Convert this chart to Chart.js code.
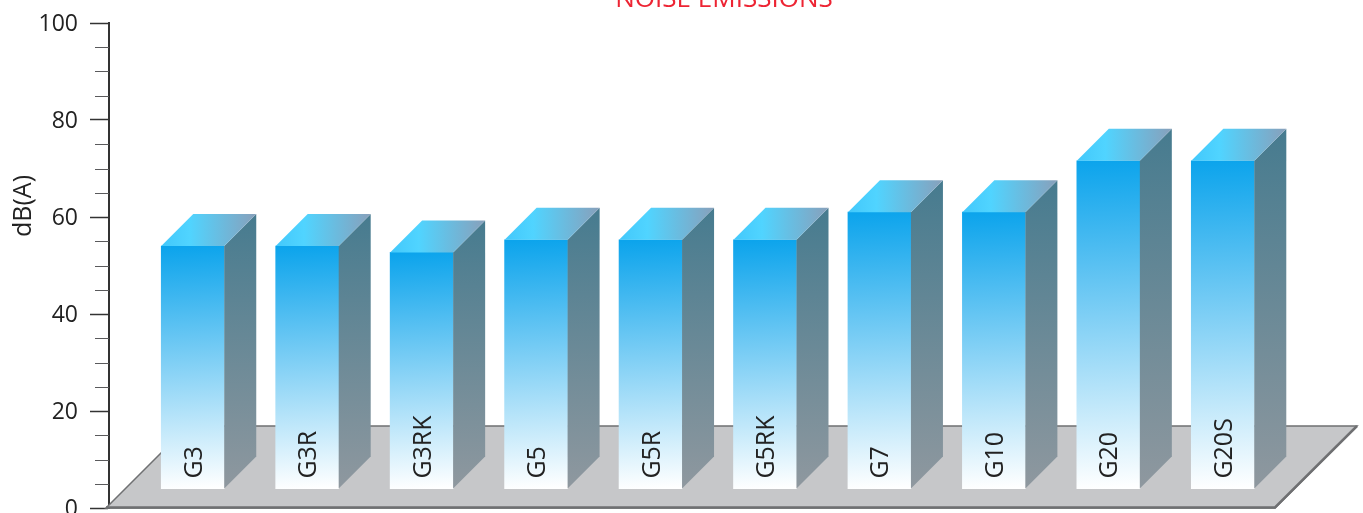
<!DOCTYPE html>
<html>
<head>
<meta charset="utf-8">
<style>
html,body{margin:0;padding:0;background:#fff;overflow:hidden}
canvas{display:block}
</style>
<script src="https://cdn.jsdelivr.net/npm/chart.js@4/dist/chart.umd.min.js"></script>
</head>
<body>
<canvas id="noise" width="1363" height="513"></canvas>
<script>
const categories = ['G3','G3R','G3RK','G5','G5R','G5RK','G7','G10','G20','G20S'];
const noiseLevels = [54,54,52.7,55.3,55.3,55.3,61,61,71.6,71.6];
const minorTicks = [5,10,15,25,30,35,45,50,55,65,70,75,85,90,95];
const chartTitle = 'NOISE EMISSIONS';
const yAxisTitle = 'dB(A)';
const barFloor = 4;
const barDepth = 32;
const floorDepth = 82;
const FONT = '"Open Sans"';

function path(ctx, pts){
  ctx.beginPath();
  pts.forEach((p,i)=> i ? ctx.lineTo(p[0],p[1]) : ctx.moveTo(p[0],p[1]));
  ctx.closePath();
}

// Grey slab the columns stand on, plus the short y-axis ticks.
const floorPlugin = {
  id:'floor',
  beforeDatasetsDraw(chart){
    const {ctx, chartArea:a, scales:{y}} = chart;
    const b = y.getPixelForValue(0);
    const pts = [[a.left-3,b],[a.left-3+floorDepth,b-floorDepth],[a.right+floorDepth,b-floorDepth],[a.right,b]];
    ctx.save();
    path(ctx,pts);
    ctx.fillStyle = '#c6c7c9';
    ctx.fill();
    ctx.strokeStyle = '#6f7072';
    ctx.lineWidth = 1.5;
    ctx.stroke();
    ctx.lineWidth = 2.5;
    ctx.beginPath();
    ctx.moveTo(a.left-3,b-0.5); ctx.lineTo(a.right,b-0.5); ctx.lineTo(a.right+floorDepth,b-floorDepth);
    ctx.stroke();
    ctx.strokeStyle = '#5a5a5c';
    ctx.lineWidth = 1;
    minorTicks.forEach(v=>{
      const py = Math.round(y.getPixelForValue(v))+0.5;
      ctx.beginPath(); ctx.moveTo(a.left-14,py); ctx.lineTo(a.left,py); ctx.stroke();
    });
    ctx.restore();
  },
  // Side and top faces extruded from each bar, then the labels.
  afterDatasetsDraw(chart){
    const {ctx} = chart;
    const bars = chart.getDatasetMeta(0).data;
    ctx.save();
    bars.forEach((bar,i)=>{
      const l = bar.x - bar.width/2, r = bar.x + bar.width/2, t = bar.y, b = bar.base;
      const side = ctx.createLinearGradient(0,t-barDepth,0,b);
      side.addColorStop(0,'#467b8f');
      side.addColorStop(1,'#8f989f');
      path(ctx,[[r,t],[r+barDepth,t-barDepth],[r+barDepth,b-barDepth],[r,b]]);
      ctx.fillStyle = side; ctx.fill();
      const top = ctx.createLinearGradient(l,0,r+barDepth,0);
      top.addColorStop(0,'#42c8fb');
      top.addColorStop(0.3,'#50d4ff');
      top.addColorStop(1,'#88a0bb');
      path(ctx,[[l,t],[l+barDepth,t-barDepth],[r+barDepth,t-barDepth],[r,t]]);
      ctx.fillStyle = top; ctx.fill();

      ctx.save();
      ctx.translate(bar.x+9, b-10);
      ctx.rotate(-Math.PI/2);
      ctx.font = '25px '+FONT;
      ctx.fillStyle = '#222';
      ctx.textAlign = 'left';
      ctx.textBaseline = 'alphabetic';
      ctx.fillText(categories[i],0,0);
      ctx.restore();
    });
    // Chart and axis captions
    ctx.fillStyle = '#ed2433';
    ctx.font = '26px '+FONT;
    ctx.textAlign = 'center';
    ctx.textBaseline = 'alphabetic';
    ctx.fillText(chartTitle,724,7);
    ctx.translate(31,206);
    ctx.rotate(-Math.PI/2);
    ctx.fillStyle = '#222';
    ctx.font = '25px '+FONT;
    ctx.fillText(yAxisTitle,0,0);
    ctx.restore();
  }
};

new Chart(document.getElementById('noise'),{
  type:'bar',
  plugins:[floorPlugin],
  data:{
    datasets:[{
      data:noiseLevels.map((v,i)=>({x:i,y:v})),
      base:barFloor,
      barThickness:63,
      borderWidth:0,
      backgroundColor(c){
        const {chart,parsed} = c;
        if(!parsed || !chart.chartArea) return '#0ea5ec';
        const {x,y} = chart.scales;
        const px = x.getPixelForValue(parsed.x);
        const g = chart.ctx.createLinearGradient(px,y.getPixelForValue(parsed.y),px+12,y.getPixelForValue(barFloor));
        g.addColorStop(0,'#0ca4ec');
        g.addColorStop(1,'#ffffff');
        return g;
      }
    }]
  },
  options:{
    responsive:false,
    animation:false,
    devicePixelRatio:1,
    layout:{padding:{top:23,bottom:5,right:88,left:0}},
    plugins:{legend:{display:false},title:{display:false},tooltip:{enabled:false}},
    scales:{
      x:{type:'linear',display:false,offset:false,min:-0.7318,max:9.4562,grid:{display:false}},
      y:{
        min:0,max:100,
        afterFit(s){s.width=109;s.paddingTop=0;s.paddingBottom=0;},
        ticks:{stepSize:20,padding:12,labelOffset:1,color:'#222',font:{family:'"Open Sans"',size:23}},
        grid:{drawOnChartArea:false,tickLength:19,tickColor:'#333',tickWidth:1.5},
        border:{color:'#333',width:2}
      }
    }
  }
});
</script>
</body>
</html>
